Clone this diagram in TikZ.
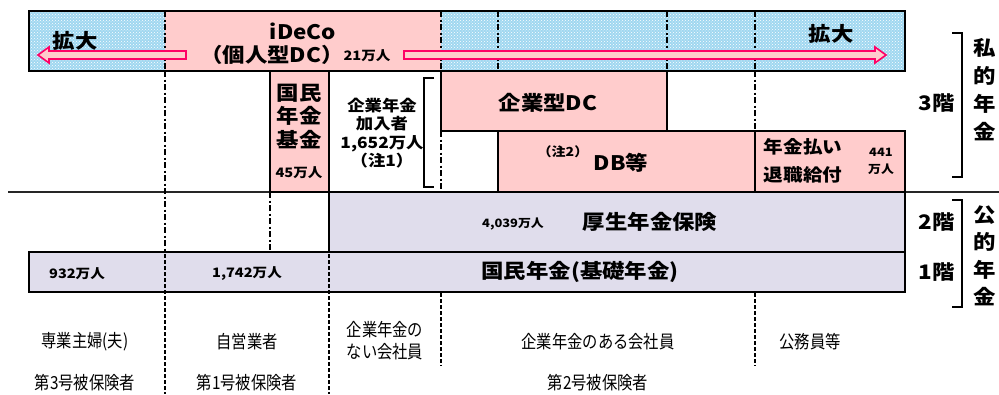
\documentclass[tikz,border=0pt]{standalone}
\usepackage{fontspec}
\usetikzlibrary{patterns}
\setmainfont{Noto Sans CJK JP}[FakeStretch=1.12]
\newfontfamily\lblfont{Noto Sans CJK JP}[FakeStretch=0.85]
\definecolor{pinkc}{RGB}{255,204,204}
\definecolor{lavc}{RGB}{224,221,236}
\definecolor{bluec}{RGB}{160,215,240}
\definecolor{arrowc}{RGB}{255,0,102}
\begin{document}
\begin{tikzpicture}[x=1pt,y=-1pt,
  box/.style={draw=black,line width=2.6pt,inner sep=0pt,outer sep=0pt,anchor=north west},
  bigt/.style={font=\bfseries\fontsize{20}{23.5}\selectfont, inner sep=0pt, align=center},
  midt/.style={font=\bfseries\fontsize{15.5}{18.5}\selectfont, inner sep=0pt, align=center},
  smallt/.style={font=\bfseries\fontsize{13}{17}\selectfont, inner sep=0pt, align=center},
  tinyt/.style={font=\bfseries\fontsize{11.5}{17}\selectfont, inner sep=0pt, align=center},
  lblt/.style={font=\lblfont\fontsize{18}{22}\selectfont, inner sep=0pt, align=center},
  thickdash/.style={line width=2.6pt, dash pattern=on 6pt off 2.5pt on 2pt off 2.5pt},
  thindash/.style={line width=1.2pt, dash pattern=on 4pt off 2pt},
  arr/.style={draw=arrowc, fill=pinkc, line width=1.6pt, line join=miter},
  brk/.style={line width=1.8pt},
]
\useasboundingbox (0,0) rectangle (999,394);
\fill[white] (0,0) rectangle (999,394);

% ---- top bar (iDeCo)
\fill[bluec] (29,11) rectangle (905,71);
\fill[pattern=crosshatch dots, pattern color=white] (29,11) rectangle (905,71);
\fill[pinkc] (165,11) rectangle (441,71);
\foreach \x in {165,441,498,667,755} \draw[thickdash] (\x,11) -- (\x,71);
\node[box, minimum width=876pt, minimum height=60pt] (topbar) at (29,11) {};

% ---- separator line between private and public
\draw[line width=1.8pt, black!85] (8,192) -- (999,192);

% ---- dashed dividers
\draw[thickdash] (165,71) -- (165,252);
\draw[thickdash] (270,192) -- (270,252);
\draw[thickdash] (441,131) -- (441,192);
\draw[thickdash] (755,71) -- (755,131);

% ---- third floor boxes
\node[box, fill=pinkc, minimum width=59pt, minimum height=121pt] (kikin) at (270,71) {};
\node[box, fill=pinkc, minimum width=226pt, minimum height=60pt] (kigyodc) at (441,71) {};
\node[box, fill=pinkc, minimum width=257pt, minimum height=61pt] (db) at (498,131) {};
\node[box, fill=pinkc, minimum width=150pt, minimum height=61pt] (nenkin) at (755,131) {};

% ---- second and first floor
\node[box, fill=lavc, minimum width=576pt, minimum height=60pt] (kosei) at (329,192) {};
\node[box, fill=lavc, minimum width=876pt, minimum height=40pt] (kokumin) at (29,252) {};
\draw[thindash] (165,254) -- (165,394);
\draw[thindash] (329,254) -- (329,394);
\draw[thindash] (441,293) -- (441,366);
\draw[thindash] (755,293) -- (755,366);

% ---- arrows
\draw[arr] (186,51) -- (49,51) -- (49,47) -- (38,55) -- (49,63) -- (49,59) -- (186,59) -- cycle;
\draw[arr] (404,51) -- (875,51) -- (875,47) -- (886,55) -- (875,63) -- (875,59) -- (404,59) -- cycle;

% ---- brackets
\draw[brk] (434,78) -- (424,78) -- (424,187) -- (434,187);
\draw[brk] (952,33) -- (962,33) -- (962,177) -- (952,177);
\draw[brk] (952,200) -- (962,200) -- (962,307) -- (952,307);

% ---- texts in top bar
\node[bigt] (kakL) at (75,41) {拡大};
\node[bigt] (kakR) at (831,34) {拡大};
\node[bigt] (ideco1) at (303,31) {iDeCo};
\node[bigt] (ideco2) at (272,55) {（個人型DC）};
\node[smallt] (ideconum) at (367,56) {21万人};

% ---- texts third floor
\node[bigt] (kikint) at (299,116) {国民\\年金\\基金};
\node[smallt] (kikinnum) at (299,173) {45万人};
\node[midt] (kanyu) at (382,133) {企業年金\\加入者\\1,652万人\\（注1）};
\node[bigt] (kigyodct) at (548,103) {企業型DC};
\node[tinyt, font=\bfseries\fontsize{12.5}{15}\selectfont] (chu2) at (563,152) {（注2）};
\node[bigt] (dbt) at (621,163) {DB等};
\node[bigt, font=\bfseries\fontsize{17.5}{28}\selectfont] (nenkint) at (803,161) {年金払い\\退職給付};
\node[tinyt] (nenkinnum) at (881,161) {441\\万人};

% ---- texts second / first floor
\node[tinyt] (koseinum) at (513,224) {4,039万人};
\node[bigt] (koseit) at (650,222) {厚生年金保険};
\node[smallt] (n932) at (77,274) {932万人};
\node[smallt] (n1742) at (247,274) {1,742万人};
\node[bigt] (kokumint) at (580,272) {国民年金(基礎年金)};

% ---- right side
\node[bigt] (f3) at (937,103) {3階};
\node[bigt] (f2) at (937,222) {2階};
\node[bigt] (f1) at (937,272) {1階};
\node[bigt, font=\bfseries\fontsize{20}{28}\selectfont] (shiteki) at (985,90) {私\\的\\年\\金};
\node[bigt, font=\bfseries\fontsize{20}{27.5}\selectfont] (koteki) at (985,256) {公\\的\\年\\金};

% ---- bottom labels
\node[lblt] (l1) at (85,342) {専業主婦(夫)};
\node[lblt] (l2) at (247,342) {自営業者};
\node[lblt] (l3) at (385,341) {企業年金の\\ない会社員};
\node[lblt] (l4) at (598,342) {企業年金のある会社員};
\node[lblt] (l5) at (810,342) {公務員等};
\node[lblt] (m1) at (85,383) {第3号被保険者};
\node[lblt] (m2) at (247,383) {第1号被保険者};
\node[lblt] (m3) at (598,383) {第2号被保険者};
\end{tikzpicture}
\end{document}
